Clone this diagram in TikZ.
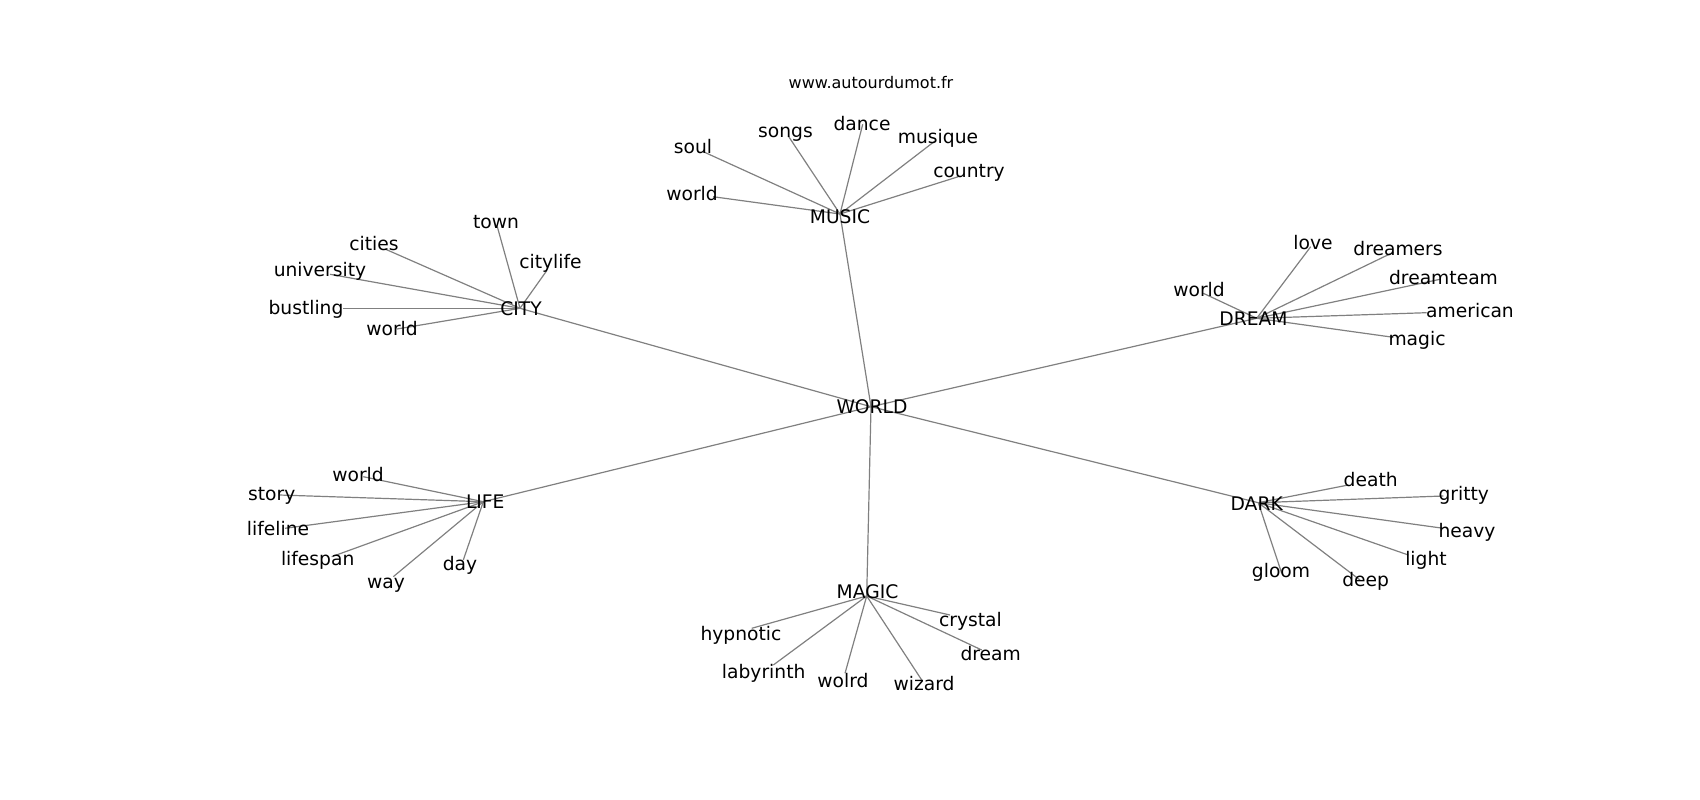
\documentclass[tikz,border=0pt]{standalone}
\usepackage{fontspec}
\setmainfont{DejaVu Sans}
\begin{document}
\begin{tikzpicture}[x=1pt,y=-1pt,
  edge/.style={draw=black!50,line width=1.2pt},
  lab/.style={anchor=base,inner sep=0pt,font=\fontsize{18.7}{22}\selectfont},
  ttl/.style={anchor=base,inner sep=0pt,font=\fontsize{16}{19}\selectfont}]
\useasboundingbox (0,0) rectangle (1700,800);
% hub points
\coordinate (pWORLD) at (871,406.7);
\coordinate (pMUSIC) at (840,214);
\coordinate (pCITY) at (520,308.3);
\coordinate (pDREAM) at (1256.7,318.3);
\coordinate (pLIFE) at (483.3,501.7);
\coordinate (pDARK) at (1258.3,502.7);
\coordinate (pMAGIC) at (866.7,596);
% music leaves
\coordinate (pSoul) at (703.3,151.7);
\coordinate (pSongs) at (788.3,136);
\coordinate (pDance) at (862.7,124.3);
\coordinate (pMusique) at (935,141);
\coordinate (pCountry) at (958.3,176.7);
\coordinate (pMWorld) at (713,196.7);
% city leaves
\coordinate (pTown) at (497.3,226.7);
\coordinate (pCities) at (385,249);
\coordinate (pCitylife) at (546.7,270.7);
\coordinate (pUniversity) at (330,274.3);
\coordinate (pBustling) at (343.3,308.3);
\coordinate (pCWorld) at (397,329);
% dream leaves
\coordinate (pLove) at (1310.7,246.7);
\coordinate (pDreamers) at (1393.3,252.3);
\coordinate (pDreamteam) at (1440,279.3);
\coordinate (pAmerican) at (1426.7,312.7);
\coordinate (pMagic) at (1393.3,337.3);
\coordinate (pDWorld) at (1203.3,293.3);
% life leaves
\coordinate (pLWorld) at (363.3,476.7);
\coordinate (pStory) at (279.3,495);
\coordinate (pLifeline) at (285,528.3);
\coordinate (pLifespan) at (331.7,556.7);
\coordinate (pWay) at (393.3,576.7);
\coordinate (pDay) at (463.3,560);
% magic leaves
\coordinate (pHypnotic) at (751.7,628.3);
\coordinate (pLabyrinth) at (773.3,665);
\coordinate (pWolrd) at (845,673.3);
\coordinate (pWizard) at (921.7,680);
\coordinate (pCrystal) at (950,615);
\coordinate (pDream) at (981.7,650);
% dark leaves
\coordinate (pDeath) at (1348.3,485);
\coordinate (pGritty) at (1443.3,496);
\coordinate (pHeavy) at (1443.3,528.3);
\coordinate (pLight) at (1408.3,555);
\coordinate (pGloom) at (1281.7,573.3);
\coordinate (pDeep) at (1360,580);
% edges
\foreach \h in {MUSIC,CITY,DREAM,LIFE,DARK,MAGIC} \draw[edge] (pWORLD) -- (p\h);
\foreach \l in {Soul,Songs,Dance,Musique,Country,MWorld} \draw[edge] (pMUSIC) -- (p\l);
\foreach \l in {Town,Cities,Citylife,University,Bustling,CWorld} \draw[edge] (pCITY) -- (p\l);
\foreach \l in {Love,Dreamers,Dreamteam,American,Magic,DWorld} \draw[edge] (pDREAM) -- (p\l);
\foreach \l in {LWorld,Story,Lifeline,Lifespan,Way,Day} \draw[edge] (pLIFE) -- (p\l);
\foreach \l in {Hypnotic,Labyrinth,Wolrd,Wizard,Crystal,Dream} \draw[edge] (pMAGIC) -- (p\l);
\foreach \l in {Death,Gritty,Heavy,Light,Gloom,Deep} \draw[edge] (pDARK) -- (p\l);
% labels
\node[ttl] (title) at (871,88.3) {www.autourdumot.fr};
\node[lab] (tWORLD) at (872,413.3) {WORLD};
\node[lab] (tMUSIC) at (840,223) {MUSIC};
\node[lab] (tCITY) at (521,315) {CITY};
\node[lab] (tDREAM) at (1253.5,325) {DREAM};
\node[lab] (tLIFE) at (485.3,508.3) {LIFE};
\node[lab] (tDARK) at (1256.7,510.7) {DARK};
\node[lab] (tMAGIC) at (867.5,598.3) {MAGIC};
\node[lab] (tSoul) at (693,153) {soul};
\node[lab] (tSongs) at (785.5,137.3) {songs};
\node[lab] (tDance) at (862,130) {dance};
\node[lab] (tMusique) at (938,143.3) {musique};
\node[lab] (tCountry) at (969,177.7) {country};
\node[lab] (tMWorld) at (692,200) {world};
\node[lab] (tTown) at (496,228.3) {town};
\node[lab] (tCities) at (374,250.7) {cities};
\node[lab] (tCitylife) at (550.5,268.3) {citylife};
\node[lab] (tUniversity) at (320,276.7) {university};
\node[lab] (tBustling) at (306,314.3) {bustling};
\node[lab] (tCWorld) at (392,335) {world};
\node[lab] (tLove) at (1313,249.3) {love};
\node[lab] (tDreamers) at (1398,255.7) {dreamers};
\node[lab] (tDreamteam) at (1443.5,284) {dreamteam};
\node[lab] (tAmerican) at (1470,317.3) {american};
\node[lab] (tMagic) at (1417,345.7) {magic};
\node[lab] (tDWorld) at (1199,296) {world};
\node[lab] (tLWorld) at (358,481.7) {world};
\node[lab] (tStory) at (271.7,500) {story};
\node[lab] (tLifeline) at (278,535.7) {lifeline};
\node[lab] (tLifespan) at (317.7,565.7) {lifespan};
\node[lab] (tWay) at (386,588.3) {way};
\node[lab] (tDay) at (460,570) {day};
\node[lab] (tHypnotic) at (741,640.7) {hypnotic};
\node[lab] (tLabyrinth) at (763.7,678.3) {labyrinth};
\node[lab] (tWolrd) at (843,687.7) {wolrd};
\node[lab] (tWizard) at (924,690) {wizard};
\node[lab] (tCrystal) at (970.5,626.7) {crystal};
\node[lab] (tDream) at (990.7,660) {dream};
\node[lab] (tDeath) at (1370.7,486) {death};
\node[lab] (tGritty) at (1463.8,500) {gritty};
\node[lab] (tHeavy) at (1467,537.3) {heavy};
\node[lab] (tLight) at (1426,565) {light};
\node[lab] (tGloom) at (1281,577.3) {gloom};
\node[lab] (tDeep) at (1365.7,586.7) {deep};
\end{tikzpicture}
\end{document}
